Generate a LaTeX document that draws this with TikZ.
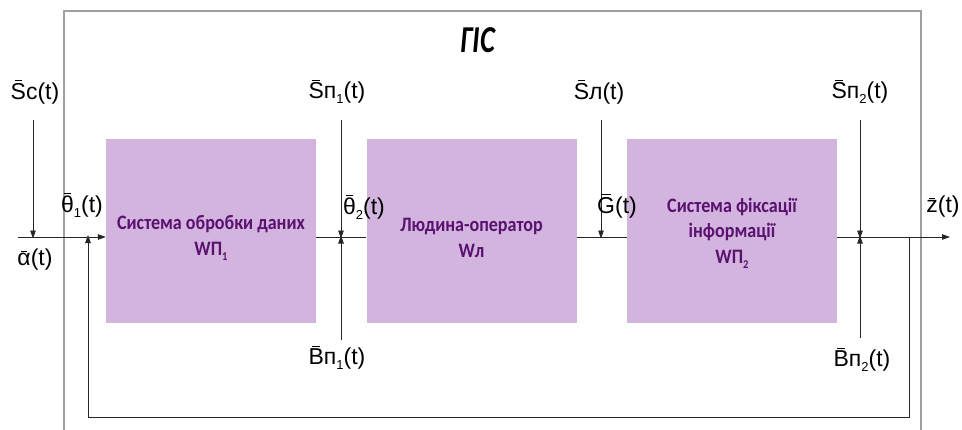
\documentclass[tikz,border=0pt]{standalone}
\usepackage{fontspec}
\setmainfont{Liberation Sans}
\newfontfamily\boxfont[FakeStretch=0.88]{Carlito}
\newfontfamily\titlefont[FakeStretch=0.75]{Carlito}
\usetikzlibrary{arrows.meta}
\definecolor{boxfill}{HTML}{D2B4DE}
\definecolor{boxtext}{HTML}{5B1170}
\definecolor{framegray}{HTML}{A0A0A0}
\newcommand\ob[1]{{\setbox0\hbox{#1}\ooalign{\hfil\raisebox{\dimexpr\ht0+1.8pt\relax}{\rule{0.5\wd0}{0.9pt}}\hfil\cr\box0\cr}}}
\newcommand\lo[1]{\raisebox{-5pt}{\fontsize{13}{13}\selectfont #1}}
\newcommand\blo[1]{\raisebox{-5pt}{\fontsize{12}{12}\selectfont #1}}
\tikzset{
  blk/.style={draw=none, fill=boxfill, minimum width=210pt, minimum height=184pt, inner sep=0pt},
  btxt/.style={text=boxtext, font=\boxfont\bfseries\fontsize{20.5}{25.5}\selectfont, align=center},
  lbl/.style={font=\fontsize{23}{26}\selectfont, inner sep=0pt},
  conn/.style={draw=black!85, line width=0.8pt},
  arr/.style={conn, -{Triangle[length=8pt,width=5.5pt]}},
  frame/.style={draw=framegray, line width=1.5pt}
}
\begin{document}
\begin{tikzpicture}[x=1pt,y=-1pt]
\useasboundingbox (0,0) rectangle (962,429);
\begin{scope}
\clip (0,0) rectangle (962,429);
\draw[frame] (64,445) -- (64,11) -- (921,11) -- (921,445);
\end{scope}
\node[font=\titlefont\bfseries\itshape\fontsize{38}{38}\selectfont, inner sep=0pt] (title) at (478,40) {ГІС};
% blocks
\node[blk] (b1) at (211,231) {};
\node[blk] (b2) at (471.5,231) {};
\node[blk] (b3) at (732,231) {};
\node[btxt] (t1) at (211,238) {Система обробки даних\\WП\blo{1}};
\node[btxt] (t2) at (471.5,238) {Людина-оператор\\Wл};
\node[btxt] (t3) at (732,233) {Система фіксації\\інформації\\WП\blo{2}};
% coordinates
\coordinate (in) at (18,237);
\coordinate (j1) at (33,237);
\coordinate (s1) at (33,120);
\coordinate (j2t) at (341,120);
\coordinate (j2) at (341,237);
\coordinate (j2b) at (341,340);
\coordinate (j3t) at (601,120);
\coordinate (j3) at (601,237);
\coordinate (j4t) at (860,120);
\coordinate (j4) at (860,237);
\coordinate (j4b) at (860,338);
\coordinate (fb1) at (909,237);
\coordinate (fb2) at (909,417);
\coordinate (fb3) at (88,417);
\coordinate (fb4) at (88,237);
\coordinate (out) at (950,237);
% main path
\draw[arr] (in) -- (b1.west |- in);
\draw[conn] (b1.east |- j2) -- (b2.west |- j2);
\draw[conn] (b2.east |- j3) -- (b3.west |- j3);
\draw[arr] (b3.east |- j4) -- (out);
% disturbances
\draw[arr] (s1) -- ([yshift=-1.5pt]j1);
\draw[arr] (j2t) -- ([yshift=-1.5pt]j2);
\draw[arr] (j2b) -- ([yshift=1.5pt]j2);
\draw[arr] (j3t) -- ([yshift=-1.5pt]j3);
\draw[arr] (j4t) -- ([yshift=-1.5pt]j4);
\draw[arr] (j4b) -- ([yshift=1.5pt]j4);
% feedback
\draw[arr] (fb1) -- (fb2) -- (fb3) -- ([yshift=2pt]fb4);
% labels
\node[lbl] (lSc) at (35,92) {\ob{S}c(t)};
\node[lbl] (la) at (35,260) {\ob{α}(t)};
\node[lbl] (lth1) at (82,205) {\ob{θ}\lo{1}(t)};
\node[lbl] (lSp1) at (337,92) {\ob{S}п\lo{1}(t)};
\node[lbl] (lth2) at (364,207) {\ob{θ}\lo{2}(t)};
\node[lbl] (lBp1) at (337,358) {\ob{B}п\lo{1}(t)};
\node[lbl] (lSl) at (599,92) {\ob{S}л(t)};
\node[lbl] (lG) at (617,206) {\ob{G}(t)};
\node[lbl] (lSp2) at (860,92) {\ob{S}п\lo{2}(t)};
\node[lbl] (lBp2) at (862,360) {\ob{B}п\lo{2}(t)};
\node[lbl] (lz) at (943,207) {\ob{z}(t)};
\end{tikzpicture}
\end{document}
